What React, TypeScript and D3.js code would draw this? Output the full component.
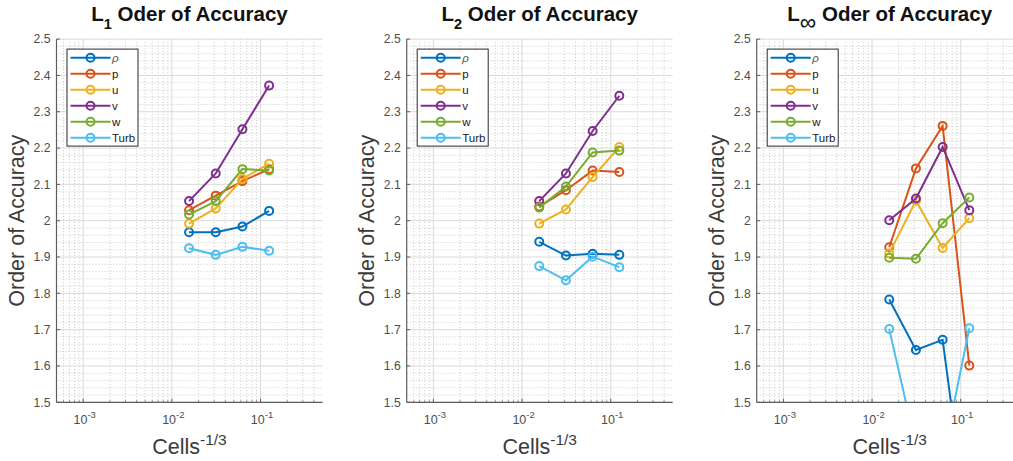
import React from "react";
import * as d3 from "d3";

// Grid resolution (cells^-1/3) of the four refinement levels
const cellSizes = [1 / 64, 1 / 32, 1 / 16, 1 / 8];

const seriesNames = ["ρ", "p", "u", "v", "w", "Turb"];
const seriesColors = ["#0072BD", "#D95319", "#EDB120", "#7E2F8E", "#77AC30", "#4DBEEE"];

// L1 order of accuracy
const l1Rho = [1.968, 1.968, 1.984, 2.027];
const l1P = [2.029, 2.069, 2.109, 2.142];
const l1U = [1.992, 2.034, 2.115, 2.157];
const l1V = [2.054, 2.13, 2.252, 2.372];
const l1W = [2.017, 2.054, 2.142, 2.138];
const l1Turb = [1.924, 1.906, 1.928, 1.917];

// L2 order of accuracy
const l2Rho = [1.942, 1.904, 1.909, 1.906];
const l2P = [2.039, 2.084, 2.138, 2.134];
const l2U = [1.992, 2.031, 2.12, 2.203];
const l2V = [2.054, 2.13, 2.247, 2.344];
const l2W = [2.036, 2.094, 2.188, 2.193];
const l2Turb = [1.875, 1.836, 1.901, 1.872];

// L-infinity order of accuracy
const lInfRho = [1.783, 1.644, 1.672, 1.12];
const lInfP = [1.927, 2.144, 2.261, 1.601];
const lInfU = [1.91, 2.055, 1.925, 2.007];
const lInfV = [2.001, 2.061, 2.203, 2.029];
const lInfW = [1.898, 1.895, 1.993, 2.064];
const lInfTurb = [1.702, 1.379, 1.344, 1.704];

const yTicks = [1.5, 1.6, 1.7, 1.8, 1.9, 2.0, 2.1, 2.2, 2.3, 2.4, 2.5];
const xDecades = [-3, -2, -1];
const xDomain: [number, number] = [5e-4, 0.5];
const yDomain: [number, number] = [1.5, 2.5];

const panels = [
  { sub: "1", subKind: "num", series: [l1Rho, l1P, l1U, l1V, l1W, l1Turb] },
  { sub: "2", subKind: "num", series: [l2Rho, l2P, l2U, l2V, l2W, l2Turb] },
  { sub: "∞", subKind: "inf", series: [lInfRho, lInfP, lInfU, lInfV, lInfW, lInfTurb] },
];

const W = 1013;
const H = 461;
const panelLefts = [56.5, 406.7, 756.7];
const plotW = 266;
const plotTop = 39.1;
const plotBottom = 402.3;
const FONT = "'Liberation Sans', Arial, Helvetica, sans-serif";
const axisColor = "#5e5e5e";
const tickTextColor = "#4d4d4d";

function Panel({ idx }: { idx: number }) {
  const p = panels[idx];
  const left = panelLefts[idx];
  const right = left + plotW;
  const x = d3.scaleLog().domain(xDomain).range([left, right]);
  const y = d3.scaleLinear().domain(yDomain).range([plotBottom, plotTop]);

  const minorX: number[] = [];
  for (let d = -4; d <= -1; d++) {
    for (let k = 2; k <= 9; k++) {
      const v = k * Math.pow(10, d);
      if (v > xDomain[0] * 1.0001 && v < xDomain[1] * 0.9999) minorX.push(v);
    }
  }
  const minorY: number[] = [];
  for (let i = 0; i <= 50; i++) {
    const v = 1.5 + i * 0.02;
    if (i % 5 !== 0) minorY.push(v);
  }

  const line = d3
    .line<number>()
    .x((_, i) => x(cellSizes[i]))
    .y((d) => y(d));

  const clipId = `clip-${idx}`;
  const cx = (left + right) / 2;

  const legX = left + 10.5;
  const legY = plotTop + 10;
  const legW = 71;
  const legH = 97;

  return (
    <g>
      <defs>
        <clipPath id={clipId}>
          <rect x={left} y={plotTop - 4} width={plotW} height={plotBottom - plotTop + 4} />
        </clipPath>
      </defs>
      {/* minor grid */}
      {minorX.map((v) => (
        <line key={"mx" + v} x1={x(v)} x2={x(v)} y1={plotTop} y2={plotBottom}
          stroke="#b5b5b5" strokeWidth={0.7} strokeDasharray="1,2" />
      ))}
      {minorY.map((v) => (
        <line key={"my" + v} x1={left} x2={right} y1={y(v)} y2={y(v)}
          stroke="#b5b5b5" strokeWidth={0.7} strokeDasharray="1,2" />
      ))}
      {/* major grid */}
      {xDecades.map((d) => (
        <line key={"gx" + d} x1={x(Math.pow(10, d))} x2={x(Math.pow(10, d))} y1={plotTop} y2={plotBottom}
          stroke="#dadada" strokeWidth={1} />
      ))}
      {yTicks.map((v) => (
        <line key={"gy" + v} x1={left} x2={right} y1={y(v)} y2={y(v)} stroke="#dadada" strokeWidth={1} />
      ))}

      {/* data */}
      <g clipPath={`url(#${clipId})`}>
        {p.series.map((s, si) => (
          <g key={si}>
            <path d={line(s) || ""} fill="none" stroke={seriesColors[si]} strokeWidth={2} />
            {s.map((v, i) => (
              <circle key={i} cx={x(cellSizes[i])} cy={y(v)} r={4} fill="none"
                stroke={seriesColors[si]} strokeWidth={2} />
            ))}
          </g>
        ))}
      </g>

      {/* axes */}
      <line x1={left} x2={left} y1={plotTop} y2={plotBottom} stroke={axisColor} strokeWidth={1.2} />
      <line x1={left} x2={right} y1={plotBottom} y2={plotBottom} stroke={axisColor} strokeWidth={1.2} />
      {yTicks.map((v) => (
        <line key={"ty" + v} x1={left} x2={left + 3.5} y1={y(v)} y2={y(v)} stroke={axisColor} strokeWidth={1} />
      ))}
      {xDecades.map((d) => (
        <line key={"tx" + d} x1={x(Math.pow(10, d))} x2={x(Math.pow(10, d))} y1={plotBottom} y2={plotBottom - 3.5}
          stroke={axisColor} strokeWidth={1} />
      ))}
      {minorX.map((v) => (
        <line key={"tmx" + v} x1={x(v)} x2={x(v)} y1={plotBottom} y2={plotBottom - 2}
          stroke={axisColor} strokeWidth={0.8} />
      ))}

      {/* tick labels */}
      {yTicks.map((v) => (
        <text key={"ly" + v} x={left - 6} y={y(v)} dy="0.35em" textAnchor="end"
          fontFamily={FONT} fontSize={12.2} fill={tickTextColor}>
          {d3.format("~g")(v)}
        </text>
      ))}
      {xDecades.map((d) => (
        <text key={"lx" + d} x={x(Math.pow(10, d)) + 1.5} y={424} textAnchor="middle"
          fontFamily={FONT} fontSize={12.5} fill={tickTextColor}>
          10<tspan dy={-6} fontSize={9.5}>{String(d)}</tspan>
        </text>
      ))}

      {/* axis titles */}
      <text x={cx} y={454} textAnchor="middle" fontFamily={FONT} fontSize={21.5} fill="#3a3a3a">
        Cells<tspan dy={-9} fontSize={15.5}>-1/3</tspan>
      </text>
      <text transform={`translate(${left - 33},${(plotTop + plotBottom) / 2}) rotate(-90)`}
        textAnchor="middle" fontFamily={FONT} fontSize={21.5} fill="#3a3a3a">
        Order of Accuracy
      </text>

      {/* title */}
      <text x={cx} y={20.7} textAnchor="middle" fontFamily={FONT} fontSize={20.5} fontWeight="bold" fill="#111">
        L
        {p.subKind === "inf" ? (
          <tspan dy={9} fontSize={23} fontWeight="normal">{p.sub}</tspan>
        ) : (
          <tspan dy={8} fontSize={14.5}>{p.sub}</tspan>
        )}
        <tspan dy={p.subKind === "inf" ? -9 : -8}>{" Oder of Accuracy"}</tspan>
      </text>

      {/* legend */}
      <rect x={legX} y={legY} width={legW} height={legH} fill="#fff" stroke="#2b2b2b" strokeWidth={1} />
      {seriesNames.map((name, i) => {
        const ry = legY + 8.6 + i * 16;
        return (
          <g key={name}>
            <line x1={legX + 3.5} x2={legX + 43.5} y1={ry} y2={ry} stroke={seriesColors[i]} strokeWidth={2} />
            <circle cx={legX + 23.5} cy={ry} r={4} fill="none" stroke={seriesColors[i]} strokeWidth={2} />
            <text x={legX + 45} y={ry} dy="0.35em" fontFamily={FONT} fontSize={11.5}
              fill={i === 0 ? "#555" : "#1a1a1a"} fontStyle={i === 0 ? "italic" : "normal"}>
              {name}
            </text>
          </g>
        );
      })}
    </g>
  );
}

export default function App() {
  return (
    <svg width={W} height={H} viewBox={`0 0 ${W} ${H}`}
      style={{ position: "absolute", left: 0, top: 0, background: "#fff", display: "block" }}>
      <rect x={0} y={0} width={W} height={H} fill="#fff" />
      {panels.map((_, i) => (
        <Panel key={i} idx={i} />
      ))}
    </svg>
  );
}
